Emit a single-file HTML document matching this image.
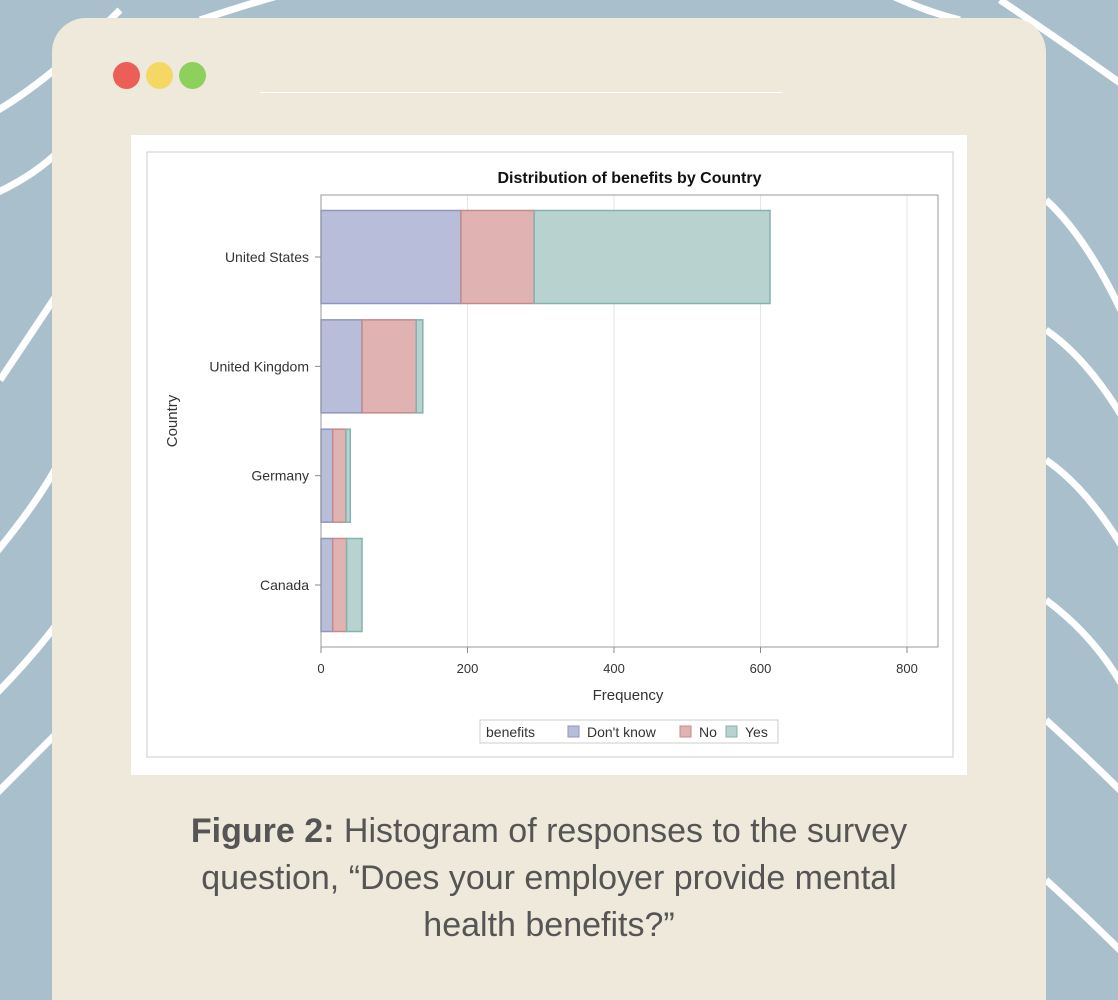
<!DOCTYPE html>
<html><head><meta charset="utf-8"><style>
html,body{margin:0;width:1118px;height:1000px;overflow:hidden}
body{background:#a9bfcb;font-family:"Liberation Sans",sans-serif;position:relative}
#bg{position:absolute;left:0;top:0}
#card{position:absolute;left:52px;top:18px;width:994px;height:982px;background:#efe9dc;border-radius:34px 34px 0 0}
.dot{position:absolute;top:62px;width:27px;height:27px;border-radius:50%}
#panel{position:absolute;left:131px;top:135px;width:836px;height:640px;background:#fff}
#caption{position:absolute;left:52px;top:808px;width:994px;text-align:center;font-size:34px;line-height:47px;color:#555}
</style></head><body>
<svg id="bg" width="1118" height="1000">
<g fill="none" stroke="#fff" stroke-width="7">
<path d="M-20 120 Q40 90 120 10"/><path d="M-20 200 Q30 180 60 150"/><path d="M0 380 Q40 320 60 290"/>
<path d="M-10 560 Q40 500 60 460"/><path d="M-10 700 Q30 660 60 620"/><path d="M-10 800 Q30 760 60 730"/>
<path d="M200 20 Q260 0 300 -10"/><path d="M880 -10 Q920 10 960 20"/>
<path d="M1046 200 Q1090 240 1130 330"/><path d="M1046 330 Q1090 360 1130 430"/><path d="M1046 460 Q1090 490 1130 560"/>
<path d="M1046 600 Q1100 640 1130 700"/><path d="M1046 720 Q1090 760 1130 800"/><path d="M1046 880 Q1090 920 1130 960"/>
<path d="M1000 0 Q1060 40 1130 90"/>
</g></svg>
<div id="card"></div>
<div class="dot" style="left:113px;background:#ec5f57"></div>
<div class="dot" style="left:146px;background:#f5d864"></div>
<div class="dot" style="left:179px;background:#8dd05c"></div>
<div style="position:absolute;left:260px;top:92px;width:522px;height:1px;background:#fff"></div>
<div id="panel">
<svg id="chart" width="836" height="640"></svg>
</div>
<div id="caption"><b>Figure 2:</b> Histogram of responses to the survey<br>question, “Does your employer provide mental<br>health benefits?”</div>
<script>
const countries=["United States","United Kingdom","Germany","Canada"];
const dontKnow=[191,56,16,16];
const no=[100,74,18,19];
const yes=[322,9,6,21];
const xTicks=[0,200,400,600,800];
const ox=131,oy=135;
const svg=document.getElementById('chart');
const NS='http://www.w3.org/2000/svg';
function el(t,a,p){const e=document.createElementNS(NS,t);for(const k in a)e.setAttribute(k,a[k]);(p||svg).appendChild(e);return e;}
const L=321-ox,R=938-ox,T=195-oy,B=647-oy;
const xs=v=>L+v*(146.5/200);
const pad=62, step=(B-T-2*pad)/(countries.length-1), bh=93;
const yc=i=>T+pad+step*i;
let e=el('rect',{x:147-ox,y:152-oy,width:806,height:605,fill:'none',stroke:'#ccc'});


xTicks.forEach(t=>{
 if(t>0){e=el('line',{x1:xs(t),x2:xs(t),y1:T,y2:B,stroke:'#e6e6e6'});
 
 }
 e=el('line',{x1:xs(t),x2:xs(t),y1:B,y2:B+6,stroke:'#888'});
 
 
 e=el('text',{x:xs(t),y:B+26,'text-anchor':'middle','font-size':13,fill:'#333'});e.textContent=t;
 
 
});
const series=[[dontKnow,'#b8bed9','#8e95bf','dont-know'],[no,'#e0b2b2','#c48a8a','no'],[yes,'#b8d2d0','#84b2ae','yes']];
countries.forEach((c,i)=>{
 let acc=0;
 series.forEach(s=>{
  const v=s[0][i];
  e=el('rect',{x:xs(acc),y:yc(i)-bh/2,width:xs(acc+v)-xs(acc),height:bh,fill:s[1],stroke:s[2],'stroke-width':1.5});
  
  
  acc+=v;
 });
 e=el('line',{x1:L-6,x2:L,y1:yc(i),y2:yc(i),stroke:'#888'});
 
 
 e=el('text',{x:L-12,y:yc(i)+5,'text-anchor':'end','font-size':14,fill:'#333'});e.textContent=c;
 
 
});
e=el('rect',{x:L,y:T,width:R-L,height:B-T,fill:'none',stroke:'#999'});


e=el('text',{x:(L+R)/2,y:178-oy+5,'text-anchor':'middle','font-size':16,'font-weight':'bold',fill:'#111'});e.textContent='Distribution of benefits by Country';


e=el('text',{x:628-ox,y:700-oy,'text-anchor':'middle','font-size':15,fill:'#333'});e.textContent='Frequency';


e=el('text',{x:0,y:0,'text-anchor':'middle','font-size':15,fill:'#333',transform:`translate(${177-ox},${421-oy}) rotate(-90)`});e.textContent='Country';


const lg=el('g',{});


el('rect',{x:480-ox,y:720-oy,width:298,height:23,fill:'#fff',stroke:'#ccc'},lg);
e=el('text',{x:486-ox,y:737-oy,'font-size':14,fill:'#333'},lg);e.textContent='benefits';
const lgItems=[["Don't know",568],["No",680],["Yes",726]];
lgItems.forEach((it,k)=>{
 e=el('rect',{x:it[1]-ox,y:726-oy,width:11,height:11,fill:series[k][1],stroke:series[k][2]},lg);
 
 
 e=el('text',{x:it[1]+19-ox,y:737-oy,'font-size':14,fill:'#333'},lg);e.textContent=it[0];
 
 
});
</script>
</body></html>
